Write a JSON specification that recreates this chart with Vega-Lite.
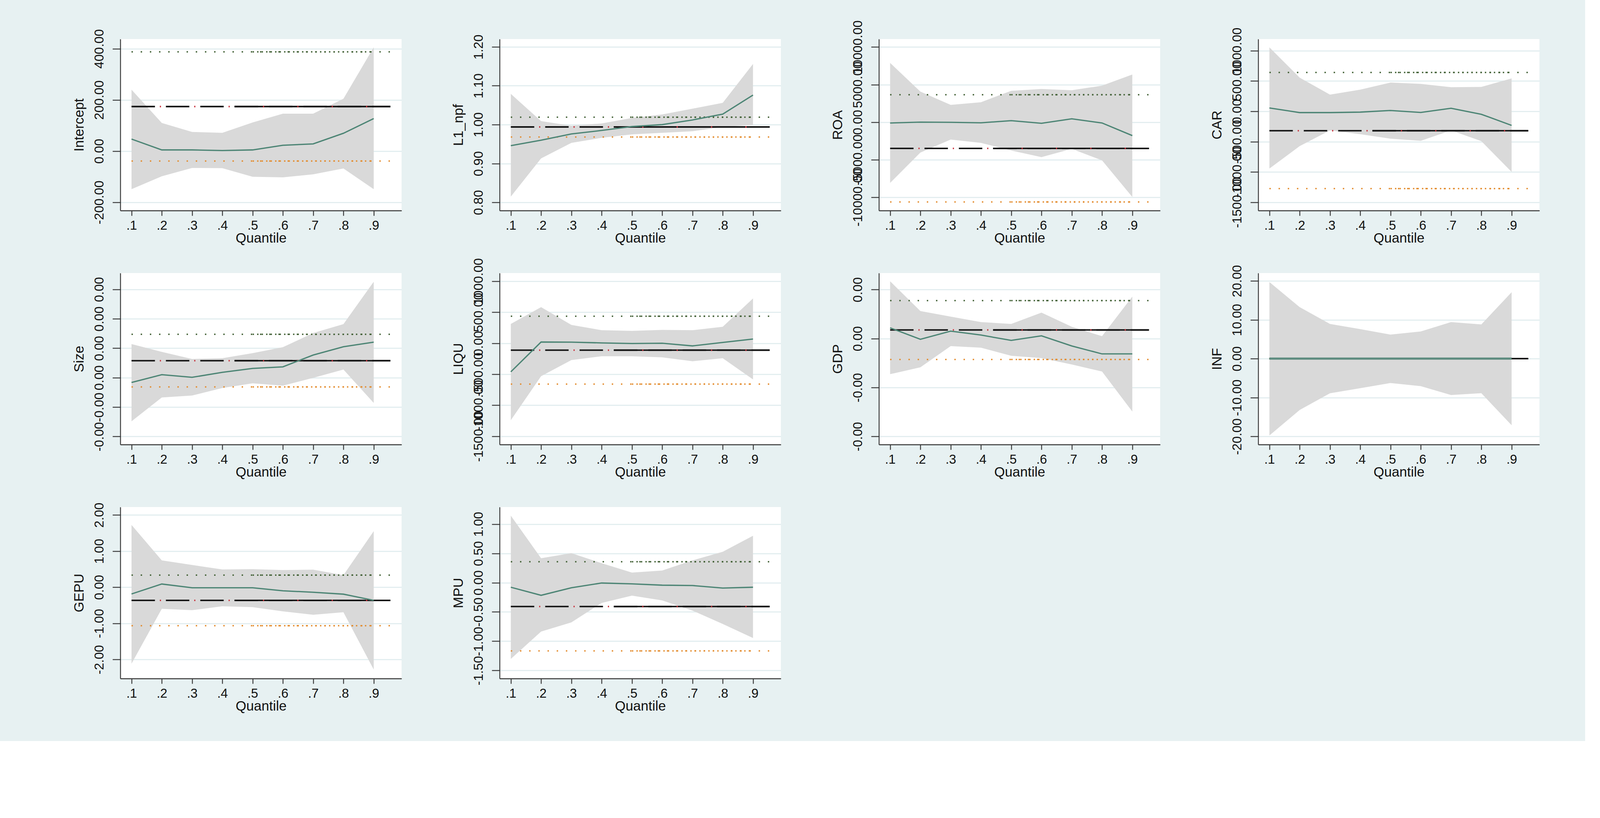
{
  "$schema": "https://vega.github.io/schema/vega-lite/v6.json",
  "background": "#E7F1F2",
  "padding": {"left": 185, "top": 51, "right": 117, "bottom": 72},
  "bounds": "flush",
  "columns": 4,
  "spacing": {"row": 160, "column": 251},
  "datasets": {
    "q": [
      {"v": "Intercept", "q": 0.1, "b": 46.8, "lo": -149, "hi": 240},
      {"v": "Intercept", "q": 0.2, "b": 4.5, "lo": -98.7, "hi": 110},
      {"v": "Intercept", "q": 0.3, "b": 4.5, "lo": -66, "hi": 74.7},
      {"v": "Intercept", "q": 0.4, "b": 1.9, "lo": -67, "hi": 71.4},
      {"v": "Intercept", "q": 0.5, "b": 4.5, "lo": -100.6, "hi": 111.7},
      {"v": "Intercept", "q": 0.6, "b": 22.7, "lo": -102.6, "hi": 146},
      {"v": "Intercept", "q": 0.7, "b": 27.9, "lo": -91, "hi": 146},
      {"v": "Intercept", "q": 0.8, "b": 69.5, "lo": -68, "hi": 204.5},
      {"v": "Intercept", "q": 0.9, "b": 127, "lo": -149, "hi": 405.8},
      {"v": "L1_npf", "q": 0.1, "b": 0.946, "lo": 0.815, "hi": 1.079},
      {"v": "L1_npf", "q": 0.2, "b": 0.960, "lo": 0.913, "hi": 1.009},
      {"v": "L1_npf", "q": 0.3, "b": 0.976, "lo": 0.953, "hi": 0.997},
      {"v": "L1_npf", "q": 0.4, "b": 0.985, "lo": 0.966, "hi": 1.003},
      {"v": "L1_npf", "q": 0.5, "b": 0.995, "lo": 0.975, "hi": 1.017},
      {"v": "L1_npf", "q": 0.6, "b": 1.000, "lo": 0.979, "hi": 1.026},
      {"v": "L1_npf", "q": 0.7, "b": 1.012, "lo": 0.983, "hi": 1.041},
      {"v": "L1_npf", "q": 0.8, "b": 1.027, "lo": 0.994, "hi": 1.056},
      {"v": "L1_npf", "q": 0.9, "b": 1.076, "lo": 0.999, "hi": 1.156},
      {"v": "ROA", "q": 0.1, "b": -110, "lo": -8089, "hi": 7890},
      {"v": "ROA", "q": 0.2, "b": 0, "lo": -4044, "hi": 4066},
      {"v": "ROA", "q": 0.3, "b": -22, "lo": -2320, "hi": 2298},
      {"v": "ROA", "q": 0.4, "b": -88, "lo": -2762, "hi": 2652},
      {"v": "ROA", "q": 0.5, "b": 199, "lo": -3779, "hi": 4177},
      {"v": "ROA", "q": 0.6, "b": -155, "lo": -4663, "hi": 4420},
      {"v": "ROA", "q": 0.7, "b": 442, "lo": -3558, "hi": 4243},
      {"v": "ROA", "q": 0.8, "b": -110, "lo": -5083, "hi": 4862},
      {"v": "ROA", "q": 0.9, "b": -1790, "lo": -9967, "hi": 6343},
      {"v": "CAR", "q": 0.1, "b": 55, "lo": -944, "hi": 1055},
      {"v": "CAR", "q": 0.2, "b": -21, "lo": -574, "hi": 556},
      {"v": "CAR", "q": 0.3, "b": -21, "lo": -314, "hi": 275},
      {"v": "CAR", "q": 0.4, "b": -13, "lo": -377, "hi": 357},
      {"v": "CAR", "q": 0.5, "b": 14, "lo": -451, "hi": 475},
      {"v": "CAR", "q": 0.6, "b": -19, "lo": -487, "hi": 453},
      {"v": "CAR", "q": 0.7, "b": 50, "lo": -314, "hi": 398},
      {"v": "CAR", "q": 0.8, "b": -49, "lo": -492, "hi": 403},
      {"v": "CAR", "q": 0.9, "b": -232, "lo": -999, "hi": 543},
      {"v": "Size", "q": 0.1, "b": -0.000165, "lo": -0.001483, "hi": 0.001142},
      {"v": "Size", "q": 0.2, "b": 0.000101, "lo": -0.000672, "hi": 0.000875},
      {"v": "Size", "q": 0.3, "b": 0.000011, "lo": -0.000608, "hi": 0.000635},
      {"v": "Size", "q": 0.4, "b": 0.000181, "lo": -0.000352, "hi": 0.000662},
      {"v": "Size", "q": 0.5, "b": 0.000315, "lo": -0.000192, "hi": 0.000832},
      {"v": "Size", "q": 0.6, "b": 0.000368, "lo": -0.000272, "hi": 0.001035},
      {"v": "Size", "q": 0.7, "b": 0.000768, "lo": -0.000005, "hi": 0.001515},
      {"v": "Size", "q": 0.8, "b": 0.001051, "lo": 0.000277, "hi": 0.001820},
      {"v": "Size", "q": 0.9, "b": 0.001206, "lo": -0.000859, "hi": 0.003260},
      {"v": "LIQU", "q": 0.1, "b": -461, "lo": -1241, "hi": 312},
      {"v": "LIQU", "q": 0.2, "b": 20, "lo": -532, "hi": 583},
      {"v": "LIQU", "q": 0.3, "b": 18, "lo": -271, "hi": 296},
      {"v": "LIQU", "q": 0.4, "b": 5, "lo": -210, "hi": 210},
      {"v": "LIQU", "q": 0.5, "b": -5, "lo": -210, "hi": 200},
      {"v": "LIQU", "q": 0.6, "b": 0, "lo": -228, "hi": 215},
      {"v": "LIQU", "q": 0.7, "b": -43, "lo": -291, "hi": 210},
      {"v": "LIQU", "q": 0.8, "b": 13, "lo": -241, "hi": 266},
      {"v": "LIQU", "q": 0.9, "b": 68, "lo": -583, "hi": 722},
      {"v": "GDP", "q": 0.1, "b": 0.000218, "lo": -0.000728, "hi": 0.001171},
      {"v": "GDP", "q": 0.2, "b": -0.000016, "lo": -0.000587, "hi": 0.000561},
      {"v": "GDP", "q": 0.3, "b": 0.000151, "lo": -0.000154, "hi": 0.000449},
      {"v": "GDP", "q": 0.4, "b": 0.000071, "lo": -0.000186, "hi": 0.000337},
      {"v": "GDP", "q": 0.5, "b": -0.000038, "lo": -0.000353, "hi": 0.000298},
      {"v": "GDP", "q": 0.6, "b": 0.000055, "lo": -0.000401, "hi": 0.000529},
      {"v": "GDP", "q": 0.7, "b": -0.000151, "lo": -0.000529, "hi": 0.000241},
      {"v": "GDP", "q": 0.8, "b": -0.000314, "lo": -0.000674, "hi": 0.000048},
      {"v": "GDP", "q": 0.9, "b": -0.000314, "lo": -0.001492, "hi": 0.000857},
      {"v": "INF", "q": 0.1, "b": 0, "lo": -19.76, "hi": 19.7},
      {"v": "INF", "q": 0.2, "b": 0, "lo": -13.2, "hi": 13.25},
      {"v": "INF", "q": 0.3, "b": 0, "lo": -8.9, "hi": 8.93},
      {"v": "INF", "q": 0.4, "b": 0, "lo": -7.6, "hi": 7.6},
      {"v": "INF", "q": 0.5, "b": 0, "lo": -6.26, "hi": 6.18},
      {"v": "INF", "q": 0.6, "b": 0, "lo": -7.07, "hi": 6.99},
      {"v": "INF", "q": 0.7, "b": 0, "lo": -9.37, "hi": 9.41},
      {"v": "INF", "q": 0.8, "b": 0, "lo": -8.89, "hi": 8.81},
      {"v": "INF", "q": 0.9, "b": 0, "lo": -17.13, "hi": 17.09},
      {"v": "GEPU", "q": 0.1, "b": -0.187, "lo": -2.117, "hi": 1.724},
      {"v": "GEPU", "q": 0.2, "b": 0.089, "lo": -0.598, "hi": 0.743},
      {"v": "GEPU", "q": 0.3, "b": -0.014, "lo": -0.636, "hi": 0.617},
      {"v": "GEPU", "q": 0.4, "b": -0.014, "lo": -0.528, "hi": 0.491},
      {"v": "GEPU", "q": 0.5, "b": -0.014, "lo": -0.551, "hi": 0.5},
      {"v": "GEPU", "q": 0.6, "b": -0.098, "lo": -0.668, "hi": 0.477},
      {"v": "GEPU", "q": 0.7, "b": -0.14, "lo": -0.762, "hi": 0.486},
      {"v": "GEPU", "q": 0.8, "b": -0.192, "lo": -0.692, "hi": 0.336},
      {"v": "GEPU", "q": 0.9, "b": -0.364, "lo": -2.28, "hi": 1.551},
      {"v": "MPU", "q": 0.1, "b": -0.078, "lo": -1.303, "hi": 1.145},
      {"v": "MPU", "q": 0.2, "b": -0.216, "lo": -0.836, "hi": 0.418},
      {"v": "MPU", "q": 0.3, "b": -0.087, "lo": -0.678, "hi": 0.505},
      {"v": "MPU", "q": 0.4, "b": -0.006, "lo": -0.346, "hi": 0.332},
      {"v": "MPU", "q": 0.5, "b": -0.02, "lo": -0.222, "hi": 0.173},
      {"v": "MPU", "q": 0.6, "b": -0.043, "lo": -0.303, "hi": 0.208},
      {"v": "MPU", "q": 0.7, "b": -0.049, "lo": -0.476, "hi": 0.381},
      {"v": "MPU", "q": 0.8, "b": -0.092, "lo": -0.706, "hi": 0.528},
      {"v": "MPU", "q": 0.9, "b": -0.078, "lo": -0.946, "hi": 0.802}
    ],
    "ols": [
      {"v": "Intercept", "b": 174, "lo": -39, "hi": 387.7},
      {"v": "L1_npf", "b": 0.994, "lo": 0.968, "hi": 1.019},
      {"v": "ROA", "b": -3492, "lo": -10630, "hi": 3647},
      {"v": "CAR", "b": -320, "lo": -1275, "hi": 641},
      {"v": "Size", "b": 0.000576, "lo": -0.000315, "hi": 0.001473},
      {"v": "LIQU", "b": -111, "lo": -659, "hi": 436},
      {"v": "GDP", "b": 0.000176, "lo": -0.000427, "hi": 0.000776},
      {"v": "INF", "b": 0, "lo": 0, "hi": 0},
      {"v": "GEPU", "b": -0.364, "lo": -1.065, "hi": 0.336},
      {"v": "MPU", "b": -0.407, "lo": -1.165, "hi": 0.358}
    ]
  },
  "concat": [
    {
      "width": 720, "height": 439,
      "layer": [
        {"data": {"name": "q"}, "transform": [{"filter": "datum.v == 'Intercept'"}],
         "mark": {"type": "area", "color": "#D9D9D9"},
         "encoding": {
           "x": {"field": "q", "type": "quantitative", "title": "Quantile", "scale": {"domain": [0.063, 0.992], "nice": false}, "axis": {"values": [0.1, 0.2, 0.3, 0.4, 0.5, 0.6, 0.7, 0.8, 0.9], "labelExpr": "replace(format(datum.value, '.1f'), '0.', '.')"}},
           "y": {"field": "lo", "type": "quantitative", "title": "Intercept", "scale": {"domain": [-232.5, 437.7], "nice": false, "zero": false}, "axis": {"values": [-200, 0, 200, 400], "labelExpr": "(datum.value < 0 ? '-' : '') + format(abs(datum.value), '.2f')"}},
           "y2": {"field": "hi"}}},
        {"data": {"name": "ols"}, "transform": [{"filter": "datum.v == 'Intercept'"}, {"fold": ["hi", "lo"], "as": ["k", "val"]}],
         "mark": {"type": "rule", "strokeWidth": 3.5, "strokeDash": [3.5, 20]},
         "encoding": {"x": {"datum": 0.1, "type": "quantitative"}, "x2": {"datum": 0.955}, "y": {"field": "val", "type": "quantitative", "title": "Intercept"},
           "color": {"field": "k", "type": "nominal", "scale": {"domain": ["hi", "lo"], "range": ["#3F5E32", "#E38B2C"]}, "legend": null}}},
        {"data": {"name": "ols"}, "transform": [{"filter": "datum.v == 'Intercept'"}, {"fold": ["hi", "lo"], "as": ["k", "val"]}],
         "mark": {"type": "rule", "strokeWidth": 3.5, "strokeDash": [3.5, 8]},
         "encoding": {"x": {"datum": 0.5, "type": "quantitative"}, "x2": {"datum": 0.9}, "y": {"field": "val", "type": "quantitative", "title": "Intercept"},
           "color": {"field": "k", "type": "nominal", "scale": {"domain": ["hi", "lo"], "range": ["#3F5E32", "#E38B2C"]}, "legend": null}}},
        {"data": {"name": "ols"}, "transform": [{"filter": "datum.v == 'Intercept'"}],
         "mark": {"type": "rule", "color": "#111111", "strokeWidth": 3.8, "strokeDash": [60, 28]},
         "encoding": {"x": {"datum": 0.1, "type": "quantitative"}, "x2": {"datum": 0.955}, "y": {"field": "b", "type": "quantitative", "title": "Intercept"}}},
        {"data": {"name": "ols"}, "transform": [{"filter": "datum.v == 'Intercept'"}],
         "mark": {"type": "rule", "color": "#111111", "strokeWidth": 3.8},
         "encoding": {"x": {"datum": 0.44, "type": "quantitative"}, "x2": {"datum": 0.955}, "y": {"field": "b", "type": "quantitative", "title": "Intercept"}}},
        {"data": {"name": "ols"}, "transform": [{"filter": "datum.v == 'Intercept'"}],
         "mark": {"type": "rule", "color": "#C8323C", "strokeWidth": 3.8, "strokeDash": [3, 85], "strokeDashOffset": -72.5},
         "encoding": {"x": {"datum": 0.1, "type": "quantitative"}, "x2": {"datum": 0.955}, "y": {"field": "b", "type": "quantitative", "title": "Intercept"}}},
        {"data": {"name": "q"}, "transform": [{"filter": "datum.v == 'Intercept'"}],
         "mark": {"type": "line", "color": "#4D8575", "strokeWidth": 3.3},
         "encoding": {"x": {"field": "q", "type": "quantitative", "title": "Quantile"}, "y": {"field": "b", "type": "quantitative", "title": "Intercept"}}}
      ]
    },
    {
      "width": 720, "height": 439,
      "layer": [
        {"data": {"name": "q"}, "transform": [{"filter": "datum.v == 'L1_npf'"}],
         "mark": {"type": "area", "color": "#D9D9D9"},
         "encoding": {
           "x": {"field": "q", "type": "quantitative", "title": "Quantile", "scale": {"domain": [0.063, 0.992], "nice": false}, "axis": {"values": [0.1, 0.2, 0.3, 0.4, 0.5, 0.6, 0.7, 0.8, 0.9], "labelExpr": "replace(format(datum.value, '.1f'), '0.', '.')"}},
           "y": {"field": "lo", "type": "quantitative", "title": "L1_npf", "scale": {"domain": [0.779, 1.22], "nice": false, "zero": false}, "axis": {"values": [0.8, 0.9, 1.0, 1.1, 1.2], "labelExpr": "(datum.value < 0 ? '-' : '') + format(abs(datum.value), '.2f')"}},
           "y2": {"field": "hi"}}},
        {"data": {"name": "ols"}, "transform": [{"filter": "datum.v == 'L1_npf'"}, {"fold": ["hi", "lo"], "as": ["k", "val"]}],
         "mark": {"type": "rule", "strokeWidth": 3.5, "strokeDash": [3.5, 20]},
         "encoding": {"x": {"datum": 0.1, "type": "quantitative"}, "x2": {"datum": 0.955}, "y": {"field": "val", "type": "quantitative", "title": "L1_npf"},
           "color": {"field": "k", "type": "nominal", "scale": {"domain": ["hi", "lo"], "range": ["#3F5E32", "#E38B2C"]}, "legend": null}}},
        {"data": {"name": "ols"}, "transform": [{"filter": "datum.v == 'L1_npf'"}, {"fold": ["hi", "lo"], "as": ["k", "val"]}],
         "mark": {"type": "rule", "strokeWidth": 3.5, "strokeDash": [3.5, 8]},
         "encoding": {"x": {"datum": 0.5, "type": "quantitative"}, "x2": {"datum": 0.9}, "y": {"field": "val", "type": "quantitative", "title": "L1_npf"},
           "color": {"field": "k", "type": "nominal", "scale": {"domain": ["hi", "lo"], "range": ["#3F5E32", "#E38B2C"]}, "legend": null}}},
        {"data": {"name": "ols"}, "transform": [{"filter": "datum.v == 'L1_npf'"}],
         "mark": {"type": "rule", "color": "#111111", "strokeWidth": 3.8, "strokeDash": [60, 28]},
         "encoding": {"x": {"datum": 0.1, "type": "quantitative"}, "x2": {"datum": 0.955}, "y": {"field": "b", "type": "quantitative", "title": "L1_npf"}}},
        {"data": {"name": "ols"}, "transform": [{"filter": "datum.v == 'L1_npf'"}],
         "mark": {"type": "rule", "color": "#111111", "strokeWidth": 3.8},
         "encoding": {"x": {"datum": 0.44, "type": "quantitative"}, "x2": {"datum": 0.955}, "y": {"field": "b", "type": "quantitative", "title": "L1_npf"}}},
        {"data": {"name": "ols"}, "transform": [{"filter": "datum.v == 'L1_npf'"}],
         "mark": {"type": "rule", "color": "#C8323C", "strokeWidth": 3.8, "strokeDash": [3, 85], "strokeDashOffset": -72.5},
         "encoding": {"x": {"datum": 0.1, "type": "quantitative"}, "x2": {"datum": 0.955}, "y": {"field": "b", "type": "quantitative", "title": "L1_npf"}}},
        {"data": {"name": "q"}, "transform": [{"filter": "datum.v == 'L1_npf'"}],
         "mark": {"type": "line", "color": "#4D8575", "strokeWidth": 3.3},
         "encoding": {"x": {"field": "q", "type": "quantitative", "title": "Quantile"}, "y": {"field": "b", "type": "quantitative", "title": "L1_npf"}}}
      ]
    },
    {
      "width": 720, "height": 439,
      "layer": [
        {"data": {"name": "q"}, "transform": [{"filter": "datum.v == 'ROA'"}],
         "mark": {"type": "area", "color": "#D9D9D9"},
         "encoding": {
           "x": {"field": "q", "type": "quantitative", "title": "Quantile", "scale": {"domain": [0.063, 0.992], "nice": false}, "axis": {"values": [0.1, 0.2, 0.3, 0.4, 0.5, 0.6, 0.7, 0.8, 0.9], "labelExpr": "replace(format(datum.value, '.1f'), '0.', '.')"}},
           "y": {"field": "lo", "type": "quantitative", "title": "ROA", "scale": {"domain": [-11768, 11061], "nice": false, "zero": false}, "axis": {"values": [-10000, -5000, 0, 5000, 10000], "labelExpr": "(datum.value < 0 ? '-' : '') + format(abs(datum.value), '.2f')"}},
           "y2": {"field": "hi"}}},
        {"data": {"name": "ols"}, "transform": [{"filter": "datum.v == 'ROA'"}, {"fold": ["hi", "lo"], "as": ["k", "val"]}],
         "mark": {"type": "rule", "strokeWidth": 3.5, "strokeDash": [3.5, 20]},
         "encoding": {"x": {"datum": 0.1, "type": "quantitative"}, "x2": {"datum": 0.955}, "y": {"field": "val", "type": "quantitative", "title": "ROA"},
           "color": {"field": "k", "type": "nominal", "scale": {"domain": ["hi", "lo"], "range": ["#3F5E32", "#E38B2C"]}, "legend": null}}},
        {"data": {"name": "ols"}, "transform": [{"filter": "datum.v == 'ROA'"}, {"fold": ["hi", "lo"], "as": ["k", "val"]}],
         "mark": {"type": "rule", "strokeWidth": 3.5, "strokeDash": [3.5, 8]},
         "encoding": {"x": {"datum": 0.5, "type": "quantitative"}, "x2": {"datum": 0.9}, "y": {"field": "val", "type": "quantitative", "title": "ROA"},
           "color": {"field": "k", "type": "nominal", "scale": {"domain": ["hi", "lo"], "range": ["#3F5E32", "#E38B2C"]}, "legend": null}}},
        {"data": {"name": "ols"}, "transform": [{"filter": "datum.v == 'ROA'"}],
         "mark": {"type": "rule", "color": "#111111", "strokeWidth": 3.8, "strokeDash": [60, 28]},
         "encoding": {"x": {"datum": 0.1, "type": "quantitative"}, "x2": {"datum": 0.955}, "y": {"field": "b", "type": "quantitative", "title": "ROA"}}},
        {"data": {"name": "ols"}, "transform": [{"filter": "datum.v == 'ROA'"}],
         "mark": {"type": "rule", "color": "#111111", "strokeWidth": 3.8},
         "encoding": {"x": {"datum": 0.44, "type": "quantitative"}, "x2": {"datum": 0.955}, "y": {"field": "b", "type": "quantitative", "title": "ROA"}}},
        {"data": {"name": "ols"}, "transform": [{"filter": "datum.v == 'ROA'"}],
         "mark": {"type": "rule", "color": "#C8323C", "strokeWidth": 3.8, "strokeDash": [3, 85], "strokeDashOffset": -72.5},
         "encoding": {"x": {"datum": 0.1, "type": "quantitative"}, "x2": {"datum": 0.955}, "y": {"field": "b", "type": "quantitative", "title": "ROA"}}},
        {"data": {"name": "q"}, "transform": [{"filter": "datum.v == 'ROA'"}],
         "mark": {"type": "line", "color": "#4D8575", "strokeWidth": 3.3},
         "encoding": {"x": {"field": "q", "type": "quantitative", "title": "Quantile"}, "y": {"field": "b", "type": "quantitative", "title": "ROA"}}}
      ]
    },
    {
      "width": 720, "height": 439,
      "layer": [
        {"data": {"name": "q"}, "transform": [{"filter": "datum.v == 'CAR'"}],
         "mark": {"type": "area", "color": "#D9D9D9"},
         "encoding": {
           "x": {"field": "q", "type": "quantitative", "title": "Quantile", "scale": {"domain": [0.063, 0.992], "nice": false}, "axis": {"values": [0.1, 0.2, 0.3, 0.4, 0.5, 0.6, 0.7, 0.8, 0.9], "labelExpr": "replace(format(datum.value, '.1f'), '0.', '.')"}},
           "y": {"field": "lo", "type": "quantitative", "title": "CAR", "scale": {"domain": [-1637, 1192], "nice": false, "zero": false}, "axis": {"values": [-1500, -1000, -500, 0, 500, 1000], "labelExpr": "(datum.value < 0 ? '-' : '') + format(abs(datum.value), '.2f')"}},
           "y2": {"field": "hi"}}},
        {"data": {"name": "ols"}, "transform": [{"filter": "datum.v == 'CAR'"}, {"fold": ["hi", "lo"], "as": ["k", "val"]}],
         "mark": {"type": "rule", "strokeWidth": 3.5, "strokeDash": [3.5, 20]},
         "encoding": {"x": {"datum": 0.1, "type": "quantitative"}, "x2": {"datum": 0.955}, "y": {"field": "val", "type": "quantitative", "title": "CAR"},
           "color": {"field": "k", "type": "nominal", "scale": {"domain": ["hi", "lo"], "range": ["#3F5E32", "#E38B2C"]}, "legend": null}}},
        {"data": {"name": "ols"}, "transform": [{"filter": "datum.v == 'CAR'"}, {"fold": ["hi", "lo"], "as": ["k", "val"]}],
         "mark": {"type": "rule", "strokeWidth": 3.5, "strokeDash": [3.5, 8]},
         "encoding": {"x": {"datum": 0.5, "type": "quantitative"}, "x2": {"datum": 0.9}, "y": {"field": "val", "type": "quantitative", "title": "CAR"},
           "color": {"field": "k", "type": "nominal", "scale": {"domain": ["hi", "lo"], "range": ["#3F5E32", "#E38B2C"]}, "legend": null}}},
        {"data": {"name": "ols"}, "transform": [{"filter": "datum.v == 'CAR'"}],
         "mark": {"type": "rule", "color": "#111111", "strokeWidth": 3.8, "strokeDash": [60, 28]},
         "encoding": {"x": {"datum": 0.1, "type": "quantitative"}, "x2": {"datum": 0.955}, "y": {"field": "b", "type": "quantitative", "title": "CAR"}}},
        {"data": {"name": "ols"}, "transform": [{"filter": "datum.v == 'CAR'"}],
         "mark": {"type": "rule", "color": "#111111", "strokeWidth": 3.8},
         "encoding": {"x": {"datum": 0.44, "type": "quantitative"}, "x2": {"datum": 0.955}, "y": {"field": "b", "type": "quantitative", "title": "CAR"}}},
        {"data": {"name": "ols"}, "transform": [{"filter": "datum.v == 'CAR'"}],
         "mark": {"type": "rule", "color": "#C8323C", "strokeWidth": 3.8, "strokeDash": [3, 85], "strokeDashOffset": -72.5},
         "encoding": {"x": {"datum": 0.1, "type": "quantitative"}, "x2": {"datum": 0.955}, "y": {"field": "b", "type": "quantitative", "title": "CAR"}}},
        {"data": {"name": "q"}, "transform": [{"filter": "datum.v == 'CAR'"}],
         "mark": {"type": "line", "color": "#4D8575", "strokeWidth": 3.3},
         "encoding": {"x": {"field": "q", "type": "quantitative", "title": "Quantile"}, "y": {"field": "b", "type": "quantitative", "title": "CAR"}}}
      ]
    },
    {
      "width": 720, "height": 439,
      "layer": [
        {"data": {"name": "q"}, "transform": [{"filter": "datum.v == 'Size'"}],
         "mark": {"type": "area", "color": "#D9D9D9"},
         "encoding": {
           "x": {"field": "q", "type": "quantitative", "title": "Quantile", "scale": {"domain": [0.063, 0.992], "nice": false}, "axis": {"values": [0.1, 0.2, 0.3, 0.4, 0.5, 0.6, 0.7, 0.8, 0.9], "labelExpr": "replace(format(datum.value, '.1f'), '0.', '.')"}},
           "y": {"field": "lo", "type": "quantitative", "title": "Size", "scale": {"domain": [-0.002273, 0.003554], "nice": false, "zero": false}, "axis": {"values": [-0.002, -0.001, 0, 0.001, 0.002, 0.003], "labelExpr": "(datum.value < 0 ? '-' : '') + format(abs(datum.value), '.2f')"}},
           "y2": {"field": "hi"}}},
        {"data": {"name": "ols"}, "transform": [{"filter": "datum.v == 'Size'"}, {"fold": ["hi", "lo"], "as": ["k", "val"]}],
         "mark": {"type": "rule", "strokeWidth": 3.5, "strokeDash": [3.5, 20]},
         "encoding": {"x": {"datum": 0.1, "type": "quantitative"}, "x2": {"datum": 0.955}, "y": {"field": "val", "type": "quantitative", "title": "Size"},
           "color": {"field": "k", "type": "nominal", "scale": {"domain": ["hi", "lo"], "range": ["#3F5E32", "#E38B2C"]}, "legend": null}}},
        {"data": {"name": "ols"}, "transform": [{"filter": "datum.v == 'Size'"}, {"fold": ["hi", "lo"], "as": ["k", "val"]}],
         "mark": {"type": "rule", "strokeWidth": 3.5, "strokeDash": [3.5, 8]},
         "encoding": {"x": {"datum": 0.5, "type": "quantitative"}, "x2": {"datum": 0.9}, "y": {"field": "val", "type": "quantitative", "title": "Size"},
           "color": {"field": "k", "type": "nominal", "scale": {"domain": ["hi", "lo"], "range": ["#3F5E32", "#E38B2C"]}, "legend": null}}},
        {"data": {"name": "ols"}, "transform": [{"filter": "datum.v == 'Size'"}],
         "mark": {"type": "rule", "color": "#111111", "strokeWidth": 3.8, "strokeDash": [60, 28]},
         "encoding": {"x": {"datum": 0.1, "type": "quantitative"}, "x2": {"datum": 0.955}, "y": {"field": "b", "type": "quantitative", "title": "Size"}}},
        {"data": {"name": "ols"}, "transform": [{"filter": "datum.v == 'Size'"}],
         "mark": {"type": "rule", "color": "#111111", "strokeWidth": 3.8},
         "encoding": {"x": {"datum": 0.44, "type": "quantitative"}, "x2": {"datum": 0.955}, "y": {"field": "b", "type": "quantitative", "title": "Size"}}},
        {"data": {"name": "ols"}, "transform": [{"filter": "datum.v == 'Size'"}],
         "mark": {"type": "rule", "color": "#C8323C", "strokeWidth": 3.8, "strokeDash": [3, 85], "strokeDashOffset": -72.5},
         "encoding": {"x": {"datum": 0.1, "type": "quantitative"}, "x2": {"datum": 0.955}, "y": {"field": "b", "type": "quantitative", "title": "Size"}}},
        {"data": {"name": "q"}, "transform": [{"filter": "datum.v == 'Size'"}],
         "mark": {"type": "line", "color": "#4D8575", "strokeWidth": 3.3},
         "encoding": {"x": {"field": "q", "type": "quantitative", "title": "Quantile"}, "y": {"field": "b", "type": "quantitative", "title": "Size"}}}
      ]
    },
    {
      "width": 720, "height": 439,
      "layer": [
        {"data": {"name": "q"}, "transform": [{"filter": "datum.v == 'LIQU'"}],
         "mark": {"type": "area", "color": "#D9D9D9"},
         "encoding": {
           "x": {"field": "q", "type": "quantitative", "title": "Quantile", "scale": {"domain": [0.063, 0.992], "nice": false}, "axis": {"values": [0.1, 0.2, 0.3, 0.4, 0.5, 0.6, 0.7, 0.8, 0.9], "labelExpr": "replace(format(datum.value, '.1f'), '0.', '.')"}},
           "y": {"field": "lo", "type": "quantitative", "title": "LIQU", "scale": {"domain": [-1634, 1132], "nice": false, "zero": false}, "axis": {"values": [-1500, -1000, -500, 0, 500, 1000], "labelExpr": "(datum.value < 0 ? '-' : '') + format(abs(datum.value), '.2f')"}},
           "y2": {"field": "hi"}}},
        {"data": {"name": "ols"}, "transform": [{"filter": "datum.v == 'LIQU'"}, {"fold": ["hi", "lo"], "as": ["k", "val"]}],
         "mark": {"type": "rule", "strokeWidth": 3.5, "strokeDash": [3.5, 20]},
         "encoding": {"x": {"datum": 0.1, "type": "quantitative"}, "x2": {"datum": 0.955}, "y": {"field": "val", "type": "quantitative", "title": "LIQU"},
           "color": {"field": "k", "type": "nominal", "scale": {"domain": ["hi", "lo"], "range": ["#3F5E32", "#E38B2C"]}, "legend": null}}},
        {"data": {"name": "ols"}, "transform": [{"filter": "datum.v == 'LIQU'"}, {"fold": ["hi", "lo"], "as": ["k", "val"]}],
         "mark": {"type": "rule", "strokeWidth": 3.5, "strokeDash": [3.5, 8]},
         "encoding": {"x": {"datum": 0.5, "type": "quantitative"}, "x2": {"datum": 0.9}, "y": {"field": "val", "type": "quantitative", "title": "LIQU"},
           "color": {"field": "k", "type": "nominal", "scale": {"domain": ["hi", "lo"], "range": ["#3F5E32", "#E38B2C"]}, "legend": null}}},
        {"data": {"name": "ols"}, "transform": [{"filter": "datum.v == 'LIQU'"}],
         "mark": {"type": "rule", "color": "#111111", "strokeWidth": 3.8, "strokeDash": [60, 28]},
         "encoding": {"x": {"datum": 0.1, "type": "quantitative"}, "x2": {"datum": 0.955}, "y": {"field": "b", "type": "quantitative", "title": "LIQU"}}},
        {"data": {"name": "ols"}, "transform": [{"filter": "datum.v == 'LIQU'"}],
         "mark": {"type": "rule", "color": "#111111", "strokeWidth": 3.8},
         "encoding": {"x": {"datum": 0.44, "type": "quantitative"}, "x2": {"datum": 0.955}, "y": {"field": "b", "type": "quantitative", "title": "LIQU"}}},
        {"data": {"name": "ols"}, "transform": [{"filter": "datum.v == 'LIQU'"}],
         "mark": {"type": "rule", "color": "#C8323C", "strokeWidth": 3.8, "strokeDash": [3, 85], "strokeDashOffset": -72.5},
         "encoding": {"x": {"datum": 0.1, "type": "quantitative"}, "x2": {"datum": 0.955}, "y": {"field": "b", "type": "quantitative", "title": "LIQU"}}},
        {"data": {"name": "q"}, "transform": [{"filter": "datum.v == 'LIQU'"}],
         "mark": {"type": "line", "color": "#4D8575", "strokeWidth": 3.3},
         "encoding": {"x": {"field": "q", "type": "quantitative", "title": "Quantile"}, "y": {"field": "b", "type": "quantitative", "title": "LIQU"}}}
      ]
    },
    {
      "width": 720, "height": 439,
      "layer": [
        {"data": {"name": "q"}, "transform": [{"filter": "datum.v == 'GDP'"}],
         "mark": {"type": "area", "color": "#D9D9D9"},
         "encoding": {
           "x": {"field": "q", "type": "quantitative", "title": "Quantile", "scale": {"domain": [0.063, 0.992], "nice": false}, "axis": {"values": [0.1, 0.2, 0.3, 0.4, 0.5, 0.6, 0.7, 0.8, 0.9], "labelExpr": "replace(format(datum.value, '.1f'), '0.', '.')"}},
           "y": {"field": "lo", "type": "quantitative", "title": "GDP", "scale": {"domain": [-0.002166, 0.001338], "nice": false, "zero": false}, "axis": {"values": [-0.002, -0.001, 0, 0.001], "labelExpr": "(datum.value < 0 ? '-' : '') + format(abs(datum.value), '.2f')"}},
           "y2": {"field": "hi"}}},
        {"data": {"name": "ols"}, "transform": [{"filter": "datum.v == 'GDP'"}, {"fold": ["hi", "lo"], "as": ["k", "val"]}],
         "mark": {"type": "rule", "strokeWidth": 3.5, "strokeDash": [3.5, 20]},
         "encoding": {"x": {"datum": 0.1, "type": "quantitative"}, "x2": {"datum": 0.955}, "y": {"field": "val", "type": "quantitative", "title": "GDP"},
           "color": {"field": "k", "type": "nominal", "scale": {"domain": ["hi", "lo"], "range": ["#3F5E32", "#E38B2C"]}, "legend": null}}},
        {"data": {"name": "ols"}, "transform": [{"filter": "datum.v == 'GDP'"}, {"fold": ["hi", "lo"], "as": ["k", "val"]}],
         "mark": {"type": "rule", "strokeWidth": 3.5, "strokeDash": [3.5, 8]},
         "encoding": {"x": {"datum": 0.5, "type": "quantitative"}, "x2": {"datum": 0.9}, "y": {"field": "val", "type": "quantitative", "title": "GDP"},
           "color": {"field": "k", "type": "nominal", "scale": {"domain": ["hi", "lo"], "range": ["#3F5E32", "#E38B2C"]}, "legend": null}}},
        {"data": {"name": "ols"}, "transform": [{"filter": "datum.v == 'GDP'"}],
         "mark": {"type": "rule", "color": "#111111", "strokeWidth": 3.8, "strokeDash": [60, 28]},
         "encoding": {"x": {"datum": 0.1, "type": "quantitative"}, "x2": {"datum": 0.955}, "y": {"field": "b", "type": "quantitative", "title": "GDP"}}},
        {"data": {"name": "ols"}, "transform": [{"filter": "datum.v == 'GDP'"}],
         "mark": {"type": "rule", "color": "#111111", "strokeWidth": 3.8},
         "encoding": {"x": {"datum": 0.44, "type": "quantitative"}, "x2": {"datum": 0.955}, "y": {"field": "b", "type": "quantitative", "title": "GDP"}}},
        {"data": {"name": "ols"}, "transform": [{"filter": "datum.v == 'GDP'"}],
         "mark": {"type": "rule", "color": "#C8323C", "strokeWidth": 3.8, "strokeDash": [3, 85], "strokeDashOffset": -72.5},
         "encoding": {"x": {"datum": 0.1, "type": "quantitative"}, "x2": {"datum": 0.955}, "y": {"field": "b", "type": "quantitative", "title": "GDP"}}},
        {"data": {"name": "q"}, "transform": [{"filter": "datum.v == 'GDP'"}],
         "mark": {"type": "line", "color": "#4D8575", "strokeWidth": 3.3},
         "encoding": {"x": {"field": "q", "type": "quantitative", "title": "Quantile"}, "y": {"field": "b", "type": "quantitative", "title": "GDP"}}}
      ]
    },
    {
      "width": 720, "height": 439,
      "layer": [
        {"data": {"name": "q"}, "transform": [{"filter": "datum.v == 'INF'"}],
         "mark": {"type": "area", "color": "#D9D9D9"},
         "encoding": {
           "x": {"field": "q", "type": "quantitative", "title": "Quantile", "scale": {"domain": [0.063, 0.992], "nice": false}, "axis": {"values": [0.1, 0.2, 0.3, 0.4, 0.5, 0.6, 0.7, 0.8, 0.9], "labelExpr": "replace(format(datum.value, '.1f'), '0.', '.')"}},
           "y": {"field": "lo", "type": "quantitative", "title": "INF", "scale": {"domain": [-22.1, 22.02], "nice": false, "zero": false}, "axis": {"values": [-20, -10, 0, 10, 20], "labelExpr": "(datum.value < 0 ? '-' : '') + format(abs(datum.value), '.2f')"}},
           "y2": {"field": "hi"}}},
        {"data": {"name": "ols"}, "transform": [{"filter": "datum.v == 'INF'"}, {"fold": ["hi", "lo"], "as": ["k", "val"]}],
         "mark": {"type": "rule", "strokeWidth": 3.5, "strokeDash": [3.5, 20]},
         "encoding": {"x": {"datum": 0.1, "type": "quantitative"}, "x2": {"datum": 0.955}, "y": {"field": "val", "type": "quantitative", "title": "INF"},
           "color": {"field": "k", "type": "nominal", "scale": {"domain": ["hi", "lo"], "range": ["#3F5E32", "#E38B2C"]}, "legend": null}}},
        {"data": {"name": "ols"}, "transform": [{"filter": "datum.v == 'INF'"}, {"fold": ["hi", "lo"], "as": ["k", "val"]}],
         "mark": {"type": "rule", "strokeWidth": 3.5, "strokeDash": [3.5, 8]},
         "encoding": {"x": {"datum": 0.5, "type": "quantitative"}, "x2": {"datum": 0.9}, "y": {"field": "val", "type": "quantitative", "title": "INF"},
           "color": {"field": "k", "type": "nominal", "scale": {"domain": ["hi", "lo"], "range": ["#3F5E32", "#E38B2C"]}, "legend": null}}},
        {"data": {"name": "ols"}, "transform": [{"filter": "datum.v == 'INF'"}],
         "mark": {"type": "rule", "color": "#111111", "strokeWidth": 3.8, "strokeDash": [60, 28]},
         "encoding": {"x": {"datum": 0.1, "type": "quantitative"}, "x2": {"datum": 0.955}, "y": {"field": "b", "type": "quantitative", "title": "INF"}}},
        {"data": {"name": "ols"}, "transform": [{"filter": "datum.v == 'INF'"}],
         "mark": {"type": "rule", "color": "#111111", "strokeWidth": 3.8},
         "encoding": {"x": {"datum": 0.44, "type": "quantitative"}, "x2": {"datum": 0.955}, "y": {"field": "b", "type": "quantitative", "title": "INF"}}},
        {"data": {"name": "ols"}, "transform": [{"filter": "datum.v == 'INF'"}],
         "mark": {"type": "rule", "color": "#C8323C", "strokeWidth": 3.8, "strokeDash": [3, 85], "strokeDashOffset": -72.5},
         "encoding": {"x": {"datum": 0.1, "type": "quantitative"}, "x2": {"datum": 0.955}, "y": {"field": "b", "type": "quantitative", "title": "INF"}}},
        {"data": {"name": "q"}, "transform": [{"filter": "datum.v == 'INF'"}],
         "mark": {"type": "line", "color": "#5E8C80", "strokeWidth": 5.5},
         "encoding": {"x": {"field": "q", "type": "quantitative", "title": "Quantile"}, "y": {"field": "b", "type": "quantitative", "title": "INF"}}}
      ]
    },
    {
      "width": 720, "height": 439,
      "layer": [
        {"data": {"name": "q"}, "transform": [{"filter": "datum.v == 'GEPU'"}],
         "mark": {"type": "area", "color": "#D9D9D9"},
         "encoding": {
           "x": {"field": "q", "type": "quantitative", "title": "Quantile", "scale": {"domain": [0.063, 0.992], "nice": false}, "axis": {"values": [0.1, 0.2, 0.3, 0.4, 0.5, 0.6, 0.7, 0.8, 0.9], "labelExpr": "replace(format(datum.value, '.1f'), '0.', '.')"}},
           "y": {"field": "lo", "type": "quantitative", "title": "GEPU", "scale": {"domain": [-2.528, 2.22], "nice": false, "zero": false}, "axis": {"values": [-2, -1, 0, 1, 2], "labelExpr": "(datum.value < 0 ? '-' : '') + format(abs(datum.value), '.2f')"}},
           "y2": {"field": "hi"}}},
        {"data": {"name": "ols"}, "transform": [{"filter": "datum.v == 'GEPU'"}, {"fold": ["hi", "lo"], "as": ["k", "val"]}],
         "mark": {"type": "rule", "strokeWidth": 3.5, "strokeDash": [3.5, 20]},
         "encoding": {"x": {"datum": 0.1, "type": "quantitative"}, "x2": {"datum": 0.955}, "y": {"field": "val", "type": "quantitative", "title": "GEPU"},
           "color": {"field": "k", "type": "nominal", "scale": {"domain": ["hi", "lo"], "range": ["#3F5E32", "#E38B2C"]}, "legend": null}}},
        {"data": {"name": "ols"}, "transform": [{"filter": "datum.v == 'GEPU'"}, {"fold": ["hi", "lo"], "as": ["k", "val"]}],
         "mark": {"type": "rule", "strokeWidth": 3.5, "strokeDash": [3.5, 8]},
         "encoding": {"x": {"datum": 0.5, "type": "quantitative"}, "x2": {"datum": 0.9}, "y": {"field": "val", "type": "quantitative", "title": "GEPU"},
           "color": {"field": "k", "type": "nominal", "scale": {"domain": ["hi", "lo"], "range": ["#3F5E32", "#E38B2C"]}, "legend": null}}},
        {"data": {"name": "ols"}, "transform": [{"filter": "datum.v == 'GEPU'"}],
         "mark": {"type": "rule", "color": "#111111", "strokeWidth": 3.8, "strokeDash": [60, 28]},
         "encoding": {"x": {"datum": 0.1, "type": "quantitative"}, "x2": {"datum": 0.955}, "y": {"field": "b", "type": "quantitative", "title": "GEPU"}}},
        {"data": {"name": "ols"}, "transform": [{"filter": "datum.v == 'GEPU'"}],
         "mark": {"type": "rule", "color": "#111111", "strokeWidth": 3.8},
         "encoding": {"x": {"datum": 0.44, "type": "quantitative"}, "x2": {"datum": 0.955}, "y": {"field": "b", "type": "quantitative", "title": "GEPU"}}},
        {"data": {"name": "ols"}, "transform": [{"filter": "datum.v == 'GEPU'"}],
         "mark": {"type": "rule", "color": "#C8323C", "strokeWidth": 3.8, "strokeDash": [3, 85], "strokeDashOffset": -72.5},
         "encoding": {"x": {"datum": 0.1, "type": "quantitative"}, "x2": {"datum": 0.955}, "y": {"field": "b", "type": "quantitative", "title": "GEPU"}}},
        {"data": {"name": "q"}, "transform": [{"filter": "datum.v == 'GEPU'"}],
         "mark": {"type": "line", "color": "#4D8575", "strokeWidth": 3.3},
         "encoding": {"x": {"field": "q", "type": "quantitative", "title": "Quantile"}, "y": {"field": "b", "type": "quantitative", "title": "GEPU"}}}
      ]
    },
    {
      "width": 720, "height": 439,
      "layer": [
        {"data": {"name": "q"}, "transform": [{"filter": "datum.v == 'MPU'"}],
         "mark": {"type": "area", "color": "#D9D9D9"},
         "encoding": {
           "x": {"field": "q", "type": "quantitative", "title": "Quantile", "scale": {"domain": [0.063, 0.992], "nice": false}, "axis": {"values": [0.1, 0.2, 0.3, 0.4, 0.5, 0.6, 0.7, 0.8, 0.9], "labelExpr": "replace(format(datum.value, '.1f'), '0.', '.')"}},
           "y": {"field": "lo", "type": "quantitative", "title": "MPU", "scale": {"domain": [-1.638, 1.292], "nice": false, "zero": false}, "axis": {"values": [-1.5, -1, -0.5, 0, 0.5, 1], "labelExpr": "(datum.value < 0 ? '-' : '') + format(abs(datum.value), '.2f')"}},
           "y2": {"field": "hi"}}},
        {"data": {"name": "ols"}, "transform": [{"filter": "datum.v == 'MPU'"}, {"fold": ["hi", "lo"], "as": ["k", "val"]}],
         "mark": {"type": "rule", "strokeWidth": 3.5, "strokeDash": [3.5, 20]},
         "encoding": {"x": {"datum": 0.1, "type": "quantitative"}, "x2": {"datum": 0.955}, "y": {"field": "val", "type": "quantitative", "title": "MPU"},
           "color": {"field": "k", "type": "nominal", "scale": {"domain": ["hi", "lo"], "range": ["#3F5E32", "#E38B2C"]}, "legend": null}}},
        {"data": {"name": "ols"}, "transform": [{"filter": "datum.v == 'MPU'"}, {"fold": ["hi", "lo"], "as": ["k", "val"]}],
         "mark": {"type": "rule", "strokeWidth": 3.5, "strokeDash": [3.5, 8]},
         "encoding": {"x": {"datum": 0.5, "type": "quantitative"}, "x2": {"datum": 0.9}, "y": {"field": "val", "type": "quantitative", "title": "MPU"},
           "color": {"field": "k", "type": "nominal", "scale": {"domain": ["hi", "lo"], "range": ["#3F5E32", "#E38B2C"]}, "legend": null}}},
        {"data": {"name": "ols"}, "transform": [{"filter": "datum.v == 'MPU'"}],
         "mark": {"type": "rule", "color": "#111111", "strokeWidth": 3.8, "strokeDash": [60, 28]},
         "encoding": {"x": {"datum": 0.1, "type": "quantitative"}, "x2": {"datum": 0.955}, "y": {"field": "b", "type": "quantitative", "title": "MPU"}}},
        {"data": {"name": "ols"}, "transform": [{"filter": "datum.v == 'MPU'"}],
         "mark": {"type": "rule", "color": "#111111", "strokeWidth": 3.8},
         "encoding": {"x": {"datum": 0.44, "type": "quantitative"}, "x2": {"datum": 0.955}, "y": {"field": "b", "type": "quantitative", "title": "MPU"}}},
        {"data": {"name": "ols"}, "transform": [{"filter": "datum.v == 'MPU'"}],
         "mark": {"type": "rule", "color": "#C8323C", "strokeWidth": 3.8, "strokeDash": [3, 85], "strokeDashOffset": -72.5},
         "encoding": {"x": {"datum": 0.1, "type": "quantitative"}, "x2": {"datum": 0.955}, "y": {"field": "b", "type": "quantitative", "title": "MPU"}}},
        {"data": {"name": "q"}, "transform": [{"filter": "datum.v == 'MPU'"}],
         "mark": {"type": "line", "color": "#4D8575", "strokeWidth": 3.3},
         "encoding": {"x": {"field": "q", "type": "quantitative", "title": "Quantile"}, "y": {"field": "b", "type": "quantitative", "title": "MPU"}}}
      ]
    }
  ],
  "config": {
    "font": "Liberation Sans",
    "view": {"fill": "white", "stroke": null},
    "axis": {
      "domainColor": "#333333",
      "domainWidth": 2.3,
      "tickColor": "#333333",
      "tickWidth": 2.3,
      "labelColor": "#111111",
      "titleColor": "#111111",
      "labelFont": "Liberation Sans",
      "titleFont": "Liberation Sans",
      "labelFontSize": 33,
      "titleFontSize": 35,
      "titleFontWeight": "normal",
      "labelOverlap": false,
      "labelBound": false,
      "labelFlush": false,
      "gridColor": "#E3EEF0",
      "gridWidth": 2.8
    },
    "axisX": {"grid": false, "tickSize": 13, "labelPadding": 9, "titlePadding": -2},
    "axisY": {"grid": true, "tickSize": 20, "labelAngle": -90, "labelAlign": "center", "labelBaseline": "bottom", "labelPadding": 17, "titlePadding": 18}
  }
}
